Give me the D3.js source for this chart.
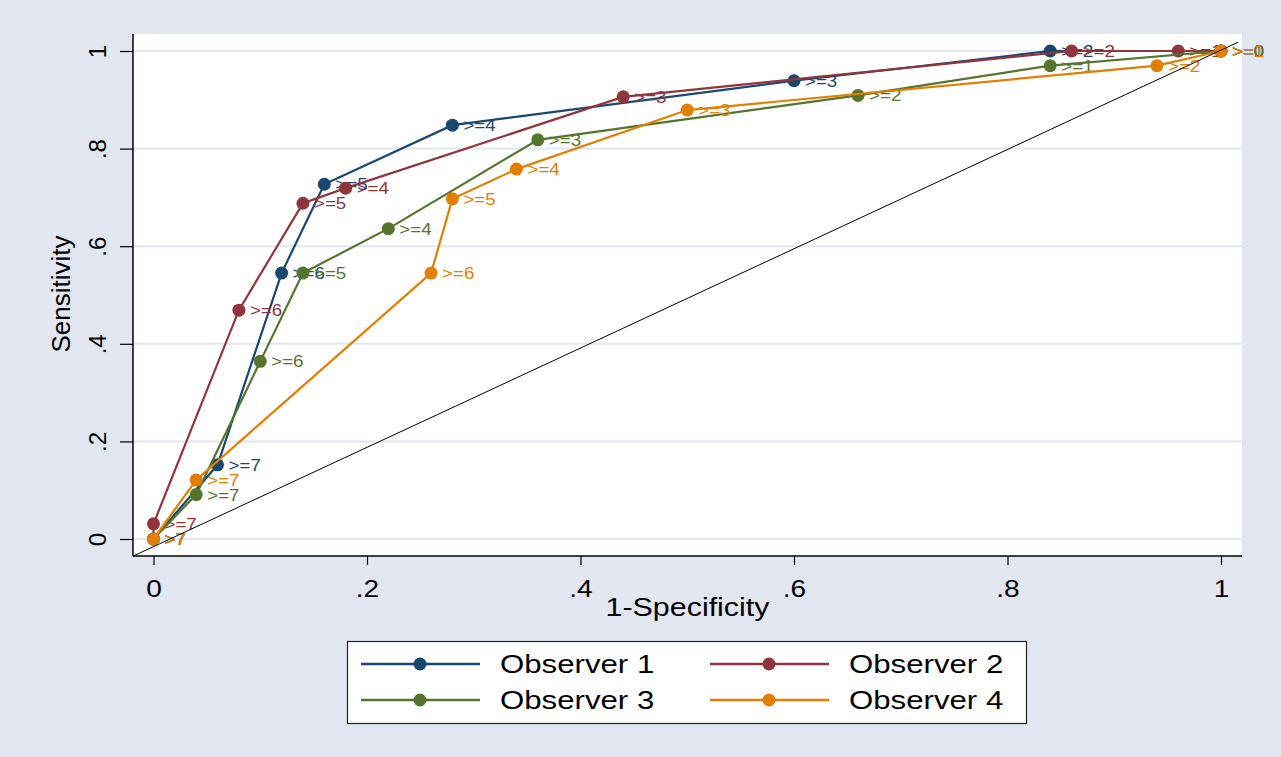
<html>
<head>
<title>ROC curves | D3</title>
<script src="https://d3js.org/d3.v7.min.js" charset="utf-8"></script>
<style>
body { margin: 0; background: #e1e6f0; }
text { font-family: "Liberation Sans", Arial, sans-serif; fill: #000; }
</style>
</head>
<body>
<script>
// data
var observers = ["Observer 1", "Observer 2", "Observer 3", "Observer 4"];
var colors = ["#1a476f", "#90353b", "#55752f", "#e37e00"];

var obs1Spec = [0, 0.06, 0.12, 0.16, 0.28, 0.60, 0.84, 1];
var obs1Sens = [0, 0.152, 0.545, 0.727, 0.848, 0.939, 1, 1];
var obs1Cut = [">7", ">=7", ">=6", ">=5", ">=4", ">=3", ">=2", ">=1"];

var obs2Spec = [0, 0, 0.08, 0.14, 0.18, 0.44, 0.86, 0.96, 1];
var obs2Sens = [0, 0.031, 0.469, 0.688, 0.719, 0.906, 1, 1, 1];
var obs2Cut = [">7", ">=7", ">=6", ">=5", ">=4", ">=3", ">=2", ">=1", ">=0"];

var obs3Spec = [0, 0.04, 0.10, 0.14, 0.22, 0.36, 0.66, 0.84, 1];
var obs3Sens = [0, 0.091, 0.364, 0.545, 0.636, 0.818, 0.909, 0.97, 1];
var obs3Cut = [">7", ">=7", ">=6", ">=5", ">=4", ">=3", ">=2", ">=1", ">=0"];

var obs4Spec = [0, 0.04, 0.26, 0.28, 0.34, 0.50, 0.94, 1];
var obs4Sens = [0, 0.121, 0.545, 0.697, 0.758, 0.879, 0.97, 1];
var obs4Cut = [">7", ">=7", ">=6", ">=5", ">=4", ">=3", ">=2", ">=1"];

var refSpec = [-0.019, 1.016];
var refSens = [-0.035, 1.018];

var xTicks = [0, 0.2, 0.4, 0.6, 0.8, 1];
var xTickLabels = ["0", ".2", ".4", ".6", ".8", "1"];
var yTicks = [0, 0.2, 0.4, 0.6, 0.8, 1];
var yTickLabels = ["0", ".2", ".4", ".6", ".8", "1"];

var series = [
  { spec: obs1Spec, sens: obs1Sens, cut: obs1Cut },
  { spec: obs2Spec, sens: obs2Sens, cut: obs2Cut },
  { spec: obs3Spec, sens: obs3Sens, cut: obs3Cut },
  { spec: obs4Spec, sens: obs4Sens, cut: obs4Cut }
];

var width = 1281, height = 757;
var plotL = 133, plotR = 1242, plotT = 34, plotB = 556;
var sx = 1.17; // stata text looks wider than arial

var x = d3.scaleLinear().domain([0, 1]).range([153.5, 1221]);
var y = d3.scaleLinear().domain([0, 1]).range([539, 51]);

var svg = d3.select("body").append("svg")
  .attr("width", width)
  .attr("height", height);

svg.append("rect")
  .attr("width", width).attr("height", height)
  .attr("fill", "#e1e6f0");

// plot region
svg.append("rect")
  .attr("x", plotL).attr("y", plotT)
  .attr("width", plotR - plotL).attr("height", plotB - plotT)
  .attr("fill", "#fff");

// grid
svg.append("g").selectAll("line")
  .data(yTicks)
  .enter().append("line")
  .attr("x1", plotL).attr("x2", plotR)
  .attr("y1", d => y(d)).attr("y2", d => y(d))
  .attr("stroke", "#e1e6f0")
  .attr("stroke-width", 2);

// axes
var xAxis = svg.append("g")
  .attr("transform", "translate(0," + plotB + ")")
  .call(d3.axisBottom(x).tickValues(xTicks).tickSize(9)
    .tickFormat((d, i) => xTickLabels[i]));
xAxis.select(".domain").remove();
xAxis.selectAll(".tick line").attr("stroke", "#000").attr("stroke-width", 1.2);
xAxis.selectAll(".tick text")
  .attr("y", 0).attr("dy", null)
  .attr("transform", "translate(0,41) scale(" + sx + ",1)")
  .attr("font-size", 24)
  .attr("font-family", null);

var yAxis = svg.append("g")
  .attr("transform", "translate(" + plotL + ",0)")
  .call(d3.axisLeft(y).tickValues(yTicks).tickSize(13)
    .tickFormat((d, i) => yTickLabels[i]));
yAxis.select(".domain").remove();
yAxis.selectAll(".tick line").attr("stroke", "#000").attr("stroke-width", 1.2);
yAxis.selectAll(".tick text")
  .attr("x", 0).attr("dy", null)
  .attr("y", -27)
  .attr("transform", "rotate(-90)")
  .attr("text-anchor", "middle")
  .attr("font-size", 24)
  .attr("font-family", null);

svg.append("line")
  .attr("x1", plotL).attr("x2", plotL).attr("y1", plotT).attr("y2", plotB)
  .attr("stroke", "#000").attr("stroke-width", 1.5);
svg.append("line")
  .attr("x1", plotL).attr("x2", plotR).attr("y1", plotB).attr("y2", plotB)
  .attr("stroke", "#000").attr("stroke-width", 1.5);

// axis titles
svg.append("text")
  .attr("transform", "translate(" + ((plotL + plotR) / 2) + ",616) scale(" + sx + ",1)")
  .attr("text-anchor", "middle")
  .attr("font-size", 26)
  .text("1-Specificity");
svg.append("text")
  .attr("transform", "translate(70,294) rotate(-90)")
  .attr("text-anchor", "middle")
  .attr("font-size", 26)
  .text("Sensitivity");

// curves
var line = d3.line().x(d => x(d[0])).y(d => y(d[1]));
series.forEach(function(s, k) {
  var pts = s.spec.map((v, i) => [v, s.sens[i], s.cut[i]]);
  var g = svg.append("g");
  g.append("path")
    .attr("d", line(pts))
    .attr("fill", "none")
    .attr("stroke", colors[k])
    .attr("stroke-width", 2.2);
  g.selectAll("circle")
    .data(pts)
    .enter().append("circle")
    .attr("cx", d => x(d[0])).attr("cy", d => y(d[1]))
    .attr("r", 6.5)
    .attr("fill", colors[k]);
  g.selectAll("text")
    .data(pts)
    .enter().append("text")
    .attr("transform", d => "translate(" + (x(d[0]) + 11) + "," + (y(d[1]) + 6) + ") scale(" + sx + ",1)")
    .attr("font-size", 16)
    .style("fill", colors[k])
    .text(d => d[2]);
});

// reference diagonal
svg.append("line")
  .attr("x1", x(refSpec[0])).attr("y1", y(refSens[0]))
  .attr("x2", x(refSpec[1])).attr("y2", y(refSens[1]))
  .attr("stroke", "#000")
  .attr("stroke-width", 1);

// legend
var leg = svg.append("g");
leg.append("rect")
  .attr("x", 347.5).attr("y", 641.5)
  .attr("width", 679).attr("height", 82)
  .attr("fill", "#fff")
  .attr("stroke", "#222")
  .attr("stroke-width", 1.2);
var item = leg.selectAll("g.item")
  .data(observers)
  .enter().append("g")
  .attr("class", "item")
  .attr("transform", (d, i) => "translate(" + (i % 2 ? 710 : 361) + "," + (i < 2 ? 664 : 700) + ")");
item.append("line")
  .attr("x1", 0).attr("x2", 119)
  .attr("stroke", (d, i) => colors[i])
  .attr("stroke-width", 2.5);
item.append("circle")
  .attr("cx", 59).attr("r", 6.5)
  .attr("fill", (d, i) => colors[i]);
item.append("text")
  .attr("transform", "translate(139,9) scale(1.2,1)")
  .attr("font-size", 26)
  .text(d => d);
</script>
</body>
</html>
